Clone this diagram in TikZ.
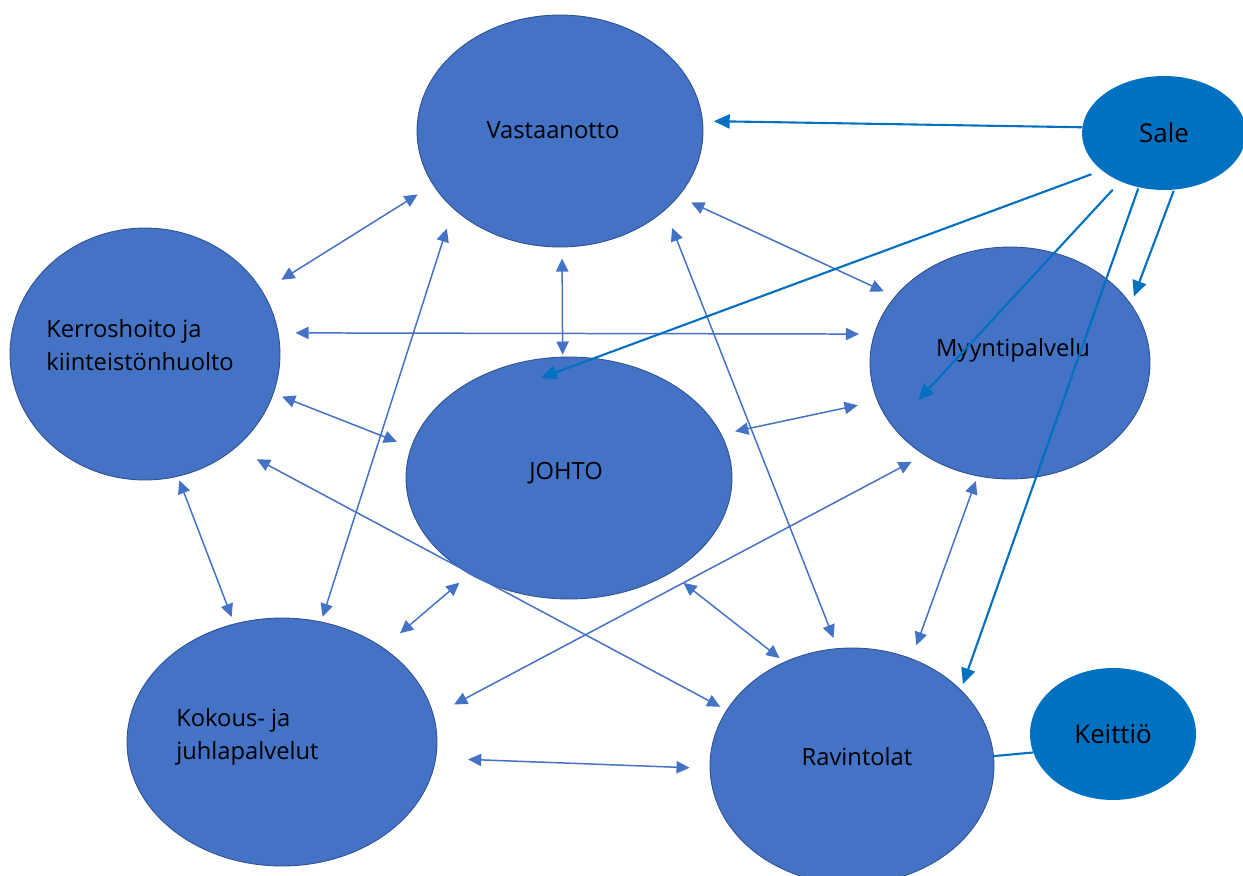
\documentclass[tikz,border=0pt]{standalone}
\usepackage{fontspec}
\setmainfont{Open Sans}
\usetikzlibrary{shapes.geometric, arrows.meta}
\definecolor{unitblue}{HTML}{4472C4}
\definecolor{unitedge}{HTML}{2F528F}
\definecolor{saleblue}{HTML}{0070C0}

\begin{document}
\begin{tikzpicture}[x=0.02cm, y=-0.02cm,
    unit/.style={ellipse, fill=unitblue, draw=unitedge, line width=0.5pt, inner sep=0pt},
    extra/.style={ellipse, fill=saleblue, inner sep=0pt, font=\fontsize{14.7}{17}\selectfont},
    txt/.style={font=\fontsize{13.5}{18.7}\selectfont, align=left, inner sep=0pt},
    link/.style={draw=unitblue, line width=0.85pt, {Triangle[length=7.5pt,width=7pt]}-{Triangle[length=7.5pt,width=7pt]}},
    feed/.style={draw=saleblue, line width=1.2pt, -{Triangle[length=9pt,width=8pt]}},
    gaps/.style 2 args={shorten <=#1, shorten >=#2}]
    \useasboundingbox (0,0) rectangle (1243,875);

    % units
    \node[unit, minimum width=5.72cm, minimum height=4.64cm] (vasta) at (560,131) {};
    \node[unit, minimum width=5.4cm, minimum height=5.04cm] (kerros) at (145,354) {};
    \node[unit, minimum width=6.52cm, minimum height=4.84cm] (johto) at (569,478) {};
    \node[unit, minimum width=5.6cm, minimum height=4.64cm] (myynti) at (1010,363) {};
    \node[unit, minimum width=6.2cm, minimum height=4.96cm] (kokous) at (282,742) {};
    \node[unit, minimum width=5.68cm, minimum height=4.72cm] (ravin) at (852,766) {};
    \node[extra, minimum width=3.28cm, minimum height=2.28cm] (sale) at (1164,133) {Sale};
    \node[extra, minimum width=3.32cm, minimum height=2.64cm] (keittio) at (1113,734) {Keittiö};

    \node[txt] (vasta-t) at (553,130) {Vastaanotto};
    \node[txt, anchor=west] (kerros-t) at (46,345) {Kerroshoito ja\\kiinteistönhuolto};
    \node[txt] (johto-t) at (566,473) {JOHTO};
    \node[txt] (myynti-t) at (1013,350) {Myyntipalvelu};
    \node[txt, anchor=west] (kokous-t) at (176,737) {Kokous- ja\\juhlapalvelut};
    \node[txt] (ravin-t) at (857,757) {Ravintolat};

    % two-way links
    \draw[link, gaps={.44cm}{.36cm}] (kerros.28) -- (vasta.203);
    \draw[link, gaps={.34cm}{.30cm}] (kerros.9) -- (myynti.168);
    \draw[link, gaps={.18cm}{.30cm}] (kerros.343) -- (johto.169);
    \draw[link, gaps={.48cm}{.14cm}] (kerros.314) -- (ravin.156);
    \draw[link, gaps={.08cm}{.14cm}] (kerros.285) -- (kokous.112);
    \draw[link, gaps={.10cm}{.42cm}] (kokous.72) -- (vasta.216);
    \draw[link, gaps={.22cm}{.04cm}] (vasta.271) -- (johto.93);
    \draw[link, gaps={.28cm}{.24cm}] (vasta.331) -- (myynti.150);
    \draw[link, gaps={.38cm}{.22cm}] (vasta.323) -- (ravin.97);
    \draw[link, gaps={.28cm}{.40cm}] (johto.16) -- (myynti.196);
    \draw[link, gaps={.26cm}{.44cm}] (johto.224) -- (kokous.43);
    \draw[link, gaps={.32cm}{.12cm}] (johto.317) -- (ravin.123);
    \draw[link, gaps={.46cm}{.28cm}] (kokous.10) -- (myynti.227);
    \draw[link, gaps={.28cm}{.10cm}] (ravin.61) -- (myynti.254);
    \draw[link, gaps={.64cm}{.40cm}] (kokous.354) -- (ravin.181);

    % from Sale
    \draw[feed, gaps={0cm}{.22cm}] (sale.176) -- (vasta.4);
    \draw[feed, gaps={.22cm}{-1.14cm}] (sale.211) -- (johto.78);
    \draw[feed, gaps={.22cm}{-4.02cm}] (sale.228) -- (myynti.68);
    \draw[feed, gaps={.02cm}{.12cm}] (sale.245) -- (ravin.35);
    \draw[feed, gaps={.02cm}{.16cm}] (sale.280) -- (myynti.26);
    \draw[saleblue, line width=1.2pt] (ravin.4) -- (keittio.193);
\end{tikzpicture}
\end{document}
